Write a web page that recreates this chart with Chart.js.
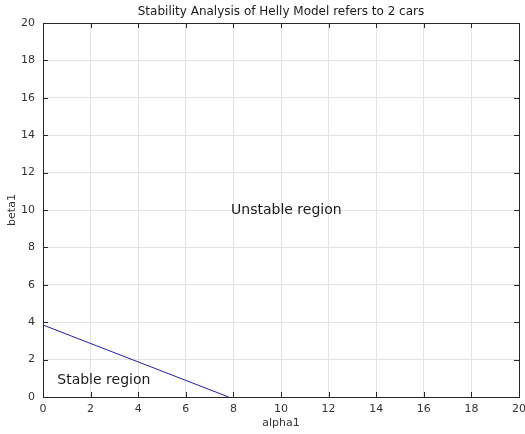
<!DOCTYPE html>
<html>
<head>
<meta charset="utf-8">
<script src="https://cdn.jsdelivr.net/npm/chart.js@4"></script>
<style>
    html, body { margin: 0; padding: 0; background: #fff; }
    #wrap { width: 525px; height: 434px; }
</style>
</head>
<body>
<div id="wrap"><canvas id="stabilityChart" width="525" height="434"></canvas></div>
<script>
// boundary line
const boundaryX = [0, 7.8];
const boundaryY = [3.85, 0];

// axis ticks
const xTicks = [0, 2, 4, 6, 8, 10, 12, 14, 16, 18, 20];
const yTicks = [0, 2, 4, 6, 8, 10, 12, 14, 16, 18, 20];

// region labels (data coords, left aligned)
const labelTexts = ["Unstable region", "Stable region"];
const labelX = [7.9, 0.6];
const labelY = [10, 0.9];

const titleText = "Stability Analysis of Helly Model refers to 2 cars";
const fontFamily = "'DejaVu Sans', 'Noto Sans', sans-serif";

// title, region labels and inward tick marks
const extrasPlugin = {
    id: 'extras',
    afterDraw(chart) {
        let c = chart.ctx;
        let xs = chart.scales.x;
        let ys = chart.scales.y;
        let area = chart.chartArea;

        c.save();
        // tick marks pointing into the box
        c.strokeStyle = '#262626';
        c.lineWidth = 1;
        c.beginPath();
        xTicks.forEach(v => {
            let px = Math.round(xs.getPixelForValue(v)) + 0.5;
            c.moveTo(px, area.bottom); c.lineTo(px, area.bottom - 5);
            c.moveTo(px, area.top); c.lineTo(px, area.top + 5);
        });
        yTicks.forEach(v => {
            let py = Math.round(ys.getPixelForValue(v)) + 0.5;
            c.moveTo(area.left, py); c.lineTo(area.left + 5, py);
            c.moveTo(area.right, py); c.lineTo(area.right - 5, py);
        });
        c.stroke();
        // box
        c.strokeRect(Math.round(area.left) + 0.5, Math.round(area.top) + 0.5,
            Math.round(area.right - area.left), Math.round(area.bottom - area.top));

        // title
        c.fillStyle = '#1a1a1a';
        c.font = '12px ' + fontFamily;
        c.textAlign = 'center';
        c.textBaseline = 'middle';
        c.fillText(titleText, (area.left + area.right) / 2, 12);

        // region labels
        c.font = '14px ' + fontFamily;
        c.textAlign = 'left';
        labelTexts.forEach((t, i) => {
            c.fillText(t, xs.getPixelForValue(labelX[i]), ys.getPixelForValue(labelY[i]));
        });
        c.restore();
    }
};

const ctx = document.getElementById('stabilityChart').getContext('2d');
const stabilityChart = new Chart(ctx, {
    type: 'scatter',
    data: {
        datasets: [{
            data: boundaryX.map((x, i) => ({ x: x, y: boundaryY[i] })),
            showLine: true,
            borderColor: '#2020a0',
            borderWidth: 1,
            pointRadius: 0,
            fill: false
        }]
    },
    options: {
        responsive: false,
        animation: false,
        layout: { padding: { top: 23, right: 6, left: 0, bottom: 0 } },
        plugins: {
            legend: { display: false },
            tooltip: { enabled: false }
        },
        scales: {
            x: {
                type: 'linear',
                min: 0, max: 20,
                afterBuildTicks: s => { s.ticks = xTicks.map(v => ({ value: v })); },
                afterFit: s => { s.height = 37; s.paddingRight = 0; s.paddingLeft = 0; },
                grid: { color: '#e3e3e3', drawTicks: false },
                border: { display: false },
                ticks: { color: '#333', font: { size: 11, family: fontFamily }, padding: 6, maxRotation: 0 },
                title: { display: true, text: 'alpha1', color: '#333', font: { size: 11, family: fontFamily }, padding: { top: 0, bottom: 4 } }
            },
            y: {
                type: 'linear',
                min: 0, max: 20,
                afterBuildTicks: s => { s.ticks = yTicks.map(v => ({ value: v })); },
                afterFit: s => { s.width = 43; },
                grid: { color: '#e3e3e3', drawTicks: false },
                border: { display: false },
                ticks: { color: '#333', font: { size: 11, family: fontFamily }, padding: 8 },
                title: { display: true, text: 'beta1', color: '#333', font: { size: 11, family: fontFamily }, padding: { top: 6, bottom: 0 } }
            }
        }
    },
    plugins: [extrasPlugin]
});
</script>
</body>
</html>
